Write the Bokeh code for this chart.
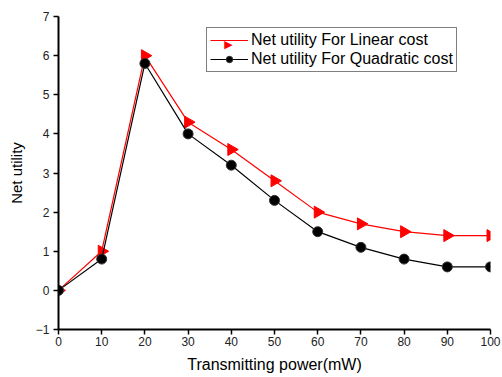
import numpy as np
from bokeh.plotting import figure
from bokeh.models import Range1d, FixedTicker, Legend, LegendItem, Label
from bokeh.embed import file_html
from bokeh.resources import INLINE

power = [0, 10, 20, 30, 40, 50, 60, 70, 80, 90, 100]
linear_cost = [0, 1.0, 6.0, 4.3, 3.6, 2.8, 2.0, 1.7, 1.5, 1.4, 1.4]
quadratic_cost = [0, 0.8, 5.8, 4.0, 3.2, 2.3, 1.5, 1.1, 0.8, 0.6, 0.6]
x_ticks = [0, 10, 20, 30, 40, 50, 60, 70, 80, 90, 100]
y_ticks = [-1, 0, 1, 2, 3, 4, 5, 6, 7]
labels = ["Net utility For Linear cost", "Net utility For Quadratic cost"]

FONT = "Liberation Sans"
W, H = 502, 377
BL, BR, BT, BB = 58, 12, 16, 48

p = figure(width=W, height=H, output_backend="svg", toolbar_location=None,
           x_range=Range1d(0, 100), y_range=Range1d(-1, 7),
           min_border_left=BL, min_border_right=BR, min_border_top=BT, min_border_bottom=BB)
p.outline_line_color = None
p.xgrid.visible = False
p.ygrid.visible = False

l1 = p.line(power, linear_cost, line_color="red", line_width=1.2)
m1 = p.scatter(power, linear_cost, marker="triangle", angle=-np.pi / 2, size=12,
               fill_color="red", line_color="red")
l2 = p.line(power, quadratic_cost, line_color="black", line_width=1.2)
m2 = p.scatter(power, quadratic_cost, marker="circle", size=10,
               fill_color="black", line_color="#333333")

# legend geometry (screen units, relative to the frame's bottom-left)
LX, LY, PAD, GW, RH, SP = 148, 257, 3, 38, 16, 1
legend = Legend(items=[
    LegendItem(label=labels[0], renderers=[l1]),
    LegendItem(label=labels[1], renderers=[l2, m2]),
], location=(LX, LY))
legend.border_line_color = "black"
legend.border_line_width = 1
legend.background_fill_color = None
legend.background_fill_alpha = 0
legend.label_text_font = FONT
legend.label_text_font_size = "16px"
legend.label_text_color = "black"
legend.glyph_width = GW
legend.glyph_height = RH
legend.label_height = RH
legend.spacing = SP
legend.padding = PAD
legend.margin = 0
legend.label_standoff = 3
p.add_layout(legend, "center")

# right-pointing triangle for the first legend entry (frame screen units)
top = LY + 2 * PAD + 2 * RH + SP
tri = Label(x=LX + PAD + GW / 2, y=top - PAD - RH / 2,
            x_units="screen", y_units="screen",
            text="\u25B6", text_color="red", text_font="DejaVu Sans", text_font_size="11px",
            text_align="center", text_baseline="middle")
p.add_layout(tri)

for ax in (p.xaxis[0], p.yaxis[0]):
    ax.axis_line_width = 2
    ax.axis_line_color = "black"
    ax.major_tick_line_width = 1.5
    ax.major_tick_line_color = "black"
    ax.major_tick_out = 5
    ax.major_tick_in = 0
    ax.minor_tick_line_color = None
    ax.major_label_text_font = FONT
    ax.major_label_text_font_size = "12px"
    ax.major_label_text_color = "#222222"
    ax.axis_label_text_font = FONT
    ax.axis_label_text_font_size = "16px"
    ax.axis_label_text_font_style = "normal"
    ax.axis_label_text_color = "black"

p.yaxis.axis_label_text_font_size = "15px"
p.xaxis.ticker = FixedTicker(ticks=x_ticks)
p.yaxis.ticker = FixedTicker(ticks=y_ticks)
p.xaxis.axis_label = "Transmitting power(mW)"
p.yaxis.axis_label = "Net utility"
p.xaxis.major_label_standoff = 2
p.yaxis.major_label_standoff = 4
p.xaxis.axis_label_standoff = 7
p.yaxis.axis_label_standoff = 8

open("out.html", "w").write(file_html(p, INLINE))
